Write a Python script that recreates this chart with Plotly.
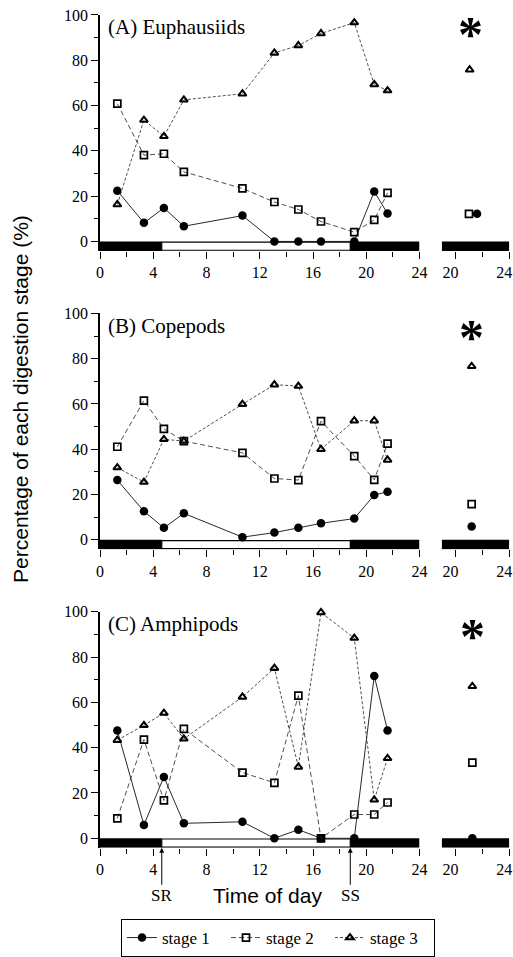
import plotly.graph_objects as go

# ---------------- data ----------------
times = [1.3, 3.3, 4.8, 6.3, 10.7, 13.1, 14.9, 16.6, 19.1, 20.6, 21.6]

euph_s1 = [22.4, 8.2, 14.8, 6.7, 11.4, 0, 0, 0, 0, 22.0, 12.3]
euph_s2 = [60.8, 38.1, 38.7, 30.7, 23.4, 17.4, 14.1, 8.8, 4.1, 9.5, 21.4]
euph_s3 = [16.3, 53.6, 46.4, 62.5, 65.2, 83.2, 86.5, 91.8, 96.6, 69.3, 66.6]

cope_s1 = [26.4, 12.6, 5.3, 11.7, 1.2, 3.2, 5.3, 7.3, 9.4, 19.8, 21.2]
cope_s2 = [41.1, 61.5, 49.0, 43.6, 38.4, 27.1, 26.4, 52.4, 37.0, 26.5, 42.5]
cope_s3 = [31.9, 25.5, 44.4, 43.6, 59.9, 68.5, 67.9, 40.0, 52.6, 52.6, 35.3]

amph_s1 = [47.6, 5.9, 27.1, 6.6, 7.3, 0, 3.8, 0, 0, 71.7, 47.6]
amph_s2 = [8.8, 43.6, 16.7, 48.3, 29.0, 24.5, 63.0, 0, 10.5, 10.5, 15.8]
amph_s3 = [43.3, 49.9, 55.3, 43.9, 62.4, 75.1, 31.5, 99.7, 88.4, 17.0, 35.3]

# separate (right-hand) samples: [stage1, stage2, stage3] and their times
side_times = [[21.6, 21.0, 21.05], [21.2, 21.2, 21.2], [21.25, 21.25, 21.25]]
side_euph = [12.2, 12.2, 75.8]
side_cope = [5.9, 15.8, 76.6]
side_amph = [0.0, 33.4, 67.1]
star_pos = [(21.1, 95.5), (21.2, 93.4), (21.25, 93.4)]

panel_labels = ["(A) Euphausiids", "(B) Copepods", "(C) Amphipods"]
stage_names = ["stage 1", "stage 2", "stage 3"]
sunrise = 4.64
sunset = 18.8
main_ticks = [0, 4, 8, 12, 16, 20, 24]
side_ticks = [20, 24]

panels = [
    (euph_s1, euph_s2, euph_s3, side_euph),
    (cope_s1, cope_s2, cope_s3, side_cope),
    (amph_s1, amph_s2, amph_s3, side_amph),
]

# ---------------- styles ----------------
W, H = 513, 957
serif = "Liberation Serif"
sans = "Liberation Sans"
styles = [
    dict(line=dict(color="#111", width=0.9, dash="solid"),
         marker=dict(symbol="circle", size=8.5, color="black",
                     line=dict(width=0))),
    dict(line=dict(color="#222", width=0.8, dash="5px,3px"),
         marker=dict(symbol="square-open", size=7, color="black",
                     line=dict(width=1.7, color="black"))),
    dict(line=dict(color="#222", width=0.8, dash="3px,2px"),
         marker=dict(symbol="triangle-up-open", size=7, color="black",
                     line=dict(width=2.0, color="black"))),
]

YMIN, YMAX = -4.2, 100
px_per_unit = 2.277
tops_px = [15, 315, 615]
main_dom = [100 / W, 419.5 / W]
side_dom = [441.7 / W, 509.3 / W]
side_range = [18.97, 24.001]

fig = go.Figure()
shapes = []
annotations = []
layout = {}

for i, (s1, s2, s3, side) in enumerate(panels):
    top = tops_px[i]
    bottom = top + (YMAX - YMIN) * px_per_unit
    ydom = [1 - bottom / H, 1 - top / H]
    ax_m = 2 * i + 1
    ax_s = 2 * i + 2
    xm = "x" if ax_m == 1 else f"x{ax_m}"
    ym = "y" if ax_m == 1 else f"y{ax_m}"
    xs = f"x{ax_s}"
    ys = f"y{ax_s}"

    for k, vals in enumerate([s1, s2, s3]):
        fig.add_trace(go.Scatter(
            x=times, y=vals, mode="lines+markers", name=stage_names[k],
            xaxis=xm, yaxis=ym, showlegend=(i == 0), cliponaxis=False,
            **styles[k]))
    for k in range(3):
        fig.add_trace(go.Scatter(
            x=[side_times[i][k]], y=[side[k]], mode="markers",
            marker=styles[k]["marker"], xaxis=xs, yaxis=ys,
            showlegend=False, cliponaxis=False))

    tickfont = dict(family=serif, size=16, color="black")
    layout["xaxis" if ax_m == 1 else f"xaxis{ax_m}"] = dict(
        domain=main_dom, anchor=ym, range=[0, 24], showgrid=False,
        zeroline=False, showline=False, ticks="outside", ticklen=7,
        tickwidth=1.2, tickcolor="black", tickvals=main_ticks,
        tickfont=tickfont, automargin=False, ticklabeloverflow="allow",
        minor=dict(dtick=2, tick0=0, ticks="outside", ticklen=5,
                   tickwidth=1.2, tickcolor="black", showgrid=False))
    layout["yaxis" if ax_m == 1 else f"yaxis{ax_m}"] = dict(
        domain=ydom, anchor=xm, range=[YMIN, YMAX], showgrid=False,
        zeroline=False, showline=True, linecolor="black", linewidth=1.6,
        ticks="outside", ticklen=7, tickwidth=1.2, tickcolor="black",
        tickvals=[0, 20, 40, 60, 80, 100], tickfont=tickfont,
        automargin=False, ticklabeloverflow="allow",
        minor=dict(tickvals=[10, 30, 50, 70, 90], ticks="outside",
                   ticklen=4, tickwidth=1.2, tickcolor="black",
                   showgrid=False))
    layout[f"xaxis{ax_s}"] = dict(
        domain=side_dom, anchor=ys, range=side_range, showgrid=False,
        zeroline=False, showline=False, ticks="outside", ticklen=7,
        tickwidth=1.2, tickcolor="black", tickvals=side_ticks,
        tickfont=tickfont, automargin=False, ticklabeloverflow="allow",
        ticklabelshift=-5,
        minor=dict(tickvals=[22], ticks="outside", ticklen=5,
                   tickwidth=1.2, tickcolor="black", showgrid=False))
    layout[f"yaxis{ax_s}"] = dict(
        domain=ydom, anchor=xs, range=[YMIN, YMAX], visible=False)

    # day/night bars
    shapes.append(dict(type="rect", xref=xm, yref=ym, x0=0, x1=sunrise,
                       y0=YMIN, y1=0, fillcolor="black",
                       line=dict(width=0), layer="below"))
    shapes.append(dict(type="rect", xref=xm, yref=ym, x0=sunrise, x1=sunset,
                       y0=YMIN + 0.3, y1=-0.3, fillcolor="white",
                       line=dict(width=1.2, color="black"), layer="below"))
    shapes.append(dict(type="rect", xref=xm, yref=ym, x0=sunset, x1=24,
                       y0=YMIN, y1=0, fillcolor="black",
                       line=dict(width=0), layer="below"))
    shapes.append(dict(type="rect", xref=xs, yref=ys, x0=side_range[0],
                       x1=24, y0=YMIN, y1=0, fillcolor="black",
                       line=dict(width=0), layer="below"))

    annotations.append(dict(
        text=panel_labels[i], xref=xm, yref=ym, x=0.45, y=94.5,
        xanchor="left", yanchor="middle", showarrow=False,
        font=dict(family=serif, size=21, color="black")))
    annotations.append(dict(
        text="<b>*</b>", xref=xs, yref=ys, x=star_pos[i][0], y=star_pos[i][1],
        xanchor="center", yanchor="middle", showarrow=False, yshift=-9,
        font=dict(family=serif, size=50, color="black")))

    if i == 2:
        for t, lab in [(sunrise, "SR"), (sunset, "SS")]:
            annotations.append(dict(
                text=lab, xref=xm, yref=ym, x=t, y=YMIN, ax=0, ay=48,
                showarrow=True, arrowhead=2, arrowsize=1, arrowwidth=1,
                arrowcolor="black", standoff=0,
                font=dict(family=serif, size=17, color="black")))

annotations.append(dict(
    text="Time of day", xref="paper", yref="paper", x=267 / W,
    y=1 - 900 / H, xanchor="center", yanchor="middle", showarrow=False,
    font=dict(family=sans, size=21, color="black")))
annotations.append(dict(
    text="Percentage of each digestion stage (%)", xref="paper",
    yref="paper", x=21 / W, y=1 - 401 / H, xanchor="center",
    yanchor="middle", showarrow=False, textangle=-90,
    font=dict(family=sans, size=21, color="black")))

fig.update_layout(
    width=W, height=H, margin=dict(l=0, r=0, t=0, b=0),
    paper_bgcolor="white", plot_bgcolor="white", template="none",
    shapes=shapes, annotations=annotations,
    legend=dict(orientation="h", x=121 / W, xanchor="left",
                y=1 - 924 / H, yanchor="top", bordercolor="black",
                borderwidth=1, bgcolor="white",
                font=dict(family=serif, size=17, color="black"),
                itemwidth=30, entrywidth=59, entrywidthmode="pixels"),
    **layout)

fig.write_html("out.html")
